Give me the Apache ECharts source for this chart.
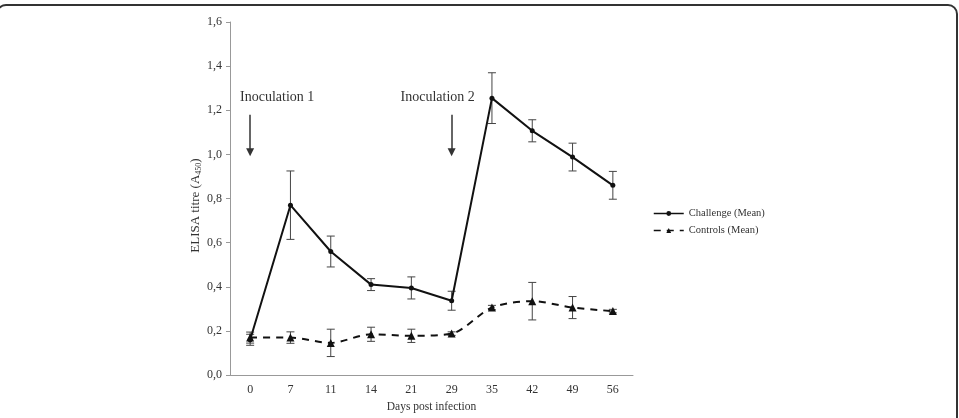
<!DOCTYPE html>
<html>
<head>
<meta charset="utf-8">
<script src="https://cdn.jsdelivr.net/npm/echarts@6/dist/echarts.min.js"></script>
<style>
  html, body { margin: 0; padding: 0; background: #fff; }
  #chart { width: 959px; height: 418px; }
</style>
</head>
<body>
<div id="chart"></div>
<script>
// days post infection (category axis, evenly spaced)
const days = ['0', '7', '11', '14', '21', '29', '35', '42', '49', '56'];
const yTicks = [0, 0.2, 0.4, 0.6, 0.8, 1.0, 1.2, 1.4, 1.6];

// mean values and error (+/-)
const challengeMean = [0.16, 0.77, 0.56, 0.41, 0.395, 0.337, 1.255, 1.107, 0.988, 0.86];
const challengeErr  = [0.025, 0.155, 0.07, 0.027, 0.05, 0.043, 0.115, 0.05, 0.063, 0.063];
const controlsMean  = [0.17, 0.17, 0.146, 0.185, 0.178, 0.188, 0.306, 0.335, 0.306, 0.29];
const controlsErr   = [0.025, 0.026, 0.062, 0.032, 0.03, 0.008, 0.01, 0.085, 0.05, 0.008];

// inoculation annotations
const inoculations = [
  { day: '0', name: 'Inoculation 1', top: 1.18, tip: 1.01, textY: 1.26, dx: 27 },
  { day: '29', name: 'Inoculation 2', top: 1.18, tip: 1.01, textY: 1.26, dx: -14 }
];

const serif = 'Liberation Serif';
const ink = '#111';

function errorBars(mean, err) {
  return mean.map((m, i) => [i, m - err[i], m + err[i]]);
}

function renderErr(params, api) {
  const x = api.value(0);
  const lo = api.coord([x, api.value(1)]);
  const hi = api.coord([x, api.value(2)]);
  const w = 4;
  const style = { stroke: '#444', lineWidth: 1 };
  return {
    type: 'group',
    children: [
      { type: 'line', shape: { x1: lo[0], y1: lo[1], x2: hi[0], y2: hi[1] }, style },
      { type: 'line', shape: { x1: lo[0] - w, y1: lo[1], x2: lo[0] + w, y2: lo[1] }, style },
      { type: 'line', shape: { x1: hi[0] - w, y1: hi[1], x2: hi[0] + w, y2: hi[1] }, style }
    ]
  };
}

const chart = echarts.init(document.getElementById('chart'));
chart.setOption({
  animation: false,
  backgroundColor: '#fff',
  textStyle: { fontFamily: serif },
  graphic: [{
    type: 'rect',
    shape: { x: -3, y: 5, width: 960, height: 440, r: 9 },
    style: { fill: 'none', stroke: '#333', lineWidth: 2 },
    silent: true
  }],
  grid: { left: 230, right: 326, top: 22, bottom: 37 },
  legend: {
    orient: 'vertical',
    left: 648,
    top: 203,
    itemWidth: 30,
    itemHeight: 6,
    itemGap: 6,
    lineStyle: { width: 1.5 },
    textStyle: { fontFamily: serif, fontSize: 10.5, color: '#333' },
    data: ['Challenge (Mean)', 'Controls (Mean)']
  },
  xAxis: {
    type: 'category',
    data: days,
    boundaryGap: true,
    name: 'Days post infection',
    nameLocation: 'middle',
    nameGap: 24,
    nameTextStyle: { fontFamily: serif, fontSize: 11.5, color: '#333' },
    axisLine: { lineStyle: { color: '#999' } },
    axisTick: { lineStyle: { color: '#999' }, length: 4 },
    axisLabel: { fontFamily: serif, fontSize: 12, color: '#333', margin: 9 }
  },
  yAxis: {
    type: 'value',
    min: yTicks[0],
    max: yTicks[yTicks.length - 1],
    interval: 0.2,
    name: '{a|ELISA titre (A}{s|450}{a|)}',
    nameLocation: 'middle',
    nameGap: 27,
    nameTextStyle: {
      padding: [0, 14, 0, 0],
      rich: {
        a: { fontFamily: serif, fontSize: 13, color: '#333' },
        s: { fontFamily: serif, fontSize: 8, color: '#333', padding: [6, 0, 0, 0] }
      }
    },
    splitLine: { show: false },
    axisLine: { show: true, lineStyle: { color: '#999' } },
    axisTick: { show: true, lineStyle: { color: '#999' }, length: 4 },
    axisLabel: {
      fontFamily: serif, fontSize: 12, color: '#333', margin: 8,
      formatter: v => v.toFixed(1).replace('.', ',')
    }
  },
  series: [
    {
      name: 'Challenge (Mean)',
      type: 'line',
      data: challengeMean,
      symbol: 'circle',
      symbolSize: 5,
      itemStyle: { color: ink },
      lineStyle: { color: ink, width: 2 },
      z: 3,
      markLine: {
        silent: true,
        symbol: ['none', 'triangle'],
        symbolSize: 8,
        symbolRotate: 180,
        lineStyle: { color: '#333', width: 1.5, type: 'solid' },
        label: { show: false },
        data: inoculations.map(d => [
          { coord: [d.day, d.top] },
          { coord: [d.day, d.tip] }
        ])
      },
      markPoint: {
        silent: true,
        symbol: 'circle',
        symbolSize: 1,
        itemStyle: { color: 'rgba(0,0,0,0)' },
        label: {
          show: true,
          position: 'inside',
          fontFamily: serif,
          fontSize: 14,
          color: '#333',
          formatter: p => p.name
        },
        data: inoculations.map(d => ({
          name: d.name,
          coord: [d.day, d.textY],
          label: { offset: [d.dx, 0] }
        }))
      }
    },
    {
      name: 'Controls (Mean)',
      type: 'line',
      data: controlsMean,
      smooth: 0.3,
      symbol: 'triangle',
      symbolSize: 8,
      itemStyle: { color: ink },
      lineStyle: { color: ink, width: 2, type: [7, 6] },
      z: 3
    },
    {
      type: 'custom',
      renderItem: renderErr,
      data: errorBars(challengeMean, challengeErr),
      encode: { x: 0, y: [1, 2] },
      silent: true,
      z: 2
    },
    {
      type: 'custom',
      renderItem: renderErr,
      data: errorBars(controlsMean, controlsErr),
      encode: { x: 0, y: [1, 2] },
      silent: true,
      z: 2
    }
  ]
});
</script>
</body>
</html>
